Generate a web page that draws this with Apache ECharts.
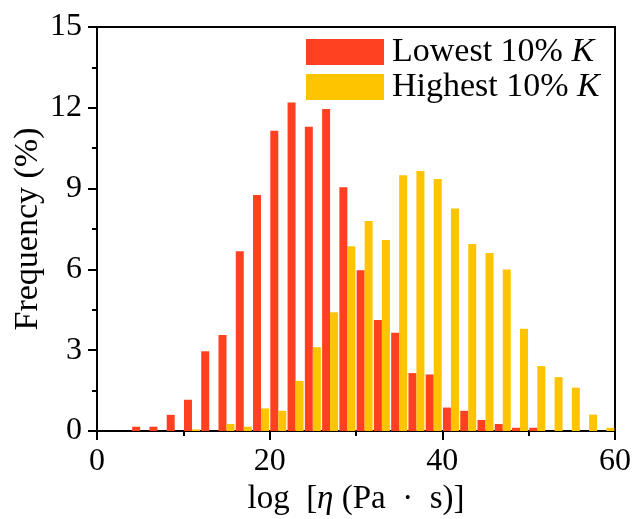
<!DOCTYPE html>
<html>
<head>
<meta charset="utf-8">
<script src="https://cdn.jsdelivr.net/npm/echarts@6/dist/echarts.min.js"></script>
<style>
  html, body { margin: 0; padding: 0; background: #fff; }
  #main { width: 634px; height: 519px; }
</style>
</head>
<body>
<div id="main"></div>
<script>
// bin centres (bins of width 2 on log eta)
var binCenters = [1, 3, 5, 7, 9, 11, 13, 15, 17, 19, 21, 23, 25, 27, 29,
                  31, 33, 35, 37, 39, 41, 43, 45, 47, 49, 51, 53, 55, 57, 59];
// frequency (%) of each bin
var lowest = [0, 0, 0.16, 0.16, 0.6, 1.16, 2.96, 3.56, 6.67, 8.76, 11.15, 12.2, 11.3, 11.96, 9.05,
              5.97, 4.12, 3.65, 2.15, 2.1, 0.87, 0.75, 0.41, 0.26, 0.12, 0.12, 0, 0, 0, 0];
var highest = [0, 0, 0, 0, 0, 0.06, 0, 0.26, 0.16, 0.84, 0.75, 1.86, 3.11, 4.41, 6.86,
               7.8, 7.09, 9.5, 9.65, 9.36, 8.26, 6.94, 6.61, 6.0, 3.8, 2.41, 2.0, 1.61, 0.61, 0.12];
var xTicks = [0, 20, 40, 60];
var yTicks = [0, 3, 6, 9, 12, 15];

var FONT = '"Liberation Serif", "DejaVu Serif", serif';

function pairs(vals) {
    return binCenters.map(function (x, i) { return [x, vals[i]]; });
}

var chart = echarts.init(document.getElementById('main'), null, { renderer: 'canvas' });

var option = {
    backgroundColor: '#fff',
    animation: false,
    grid: {
        left: 97, right: 19, top: 27, bottom: 88,
        outerBoundsMode: 'none',
        containLabel: false,
        show: true, borderColor: '#000', borderWidth: 2, backgroundColor: 'transparent'
    },
    legend: {
        orient: 'vertical',
        left: 301, top: 30,
        itemWidth: 78, itemHeight: 26, itemGap: 1,
        icon: 'rect',
        textStyle: {
            fontFamily: FONT, fontSize: 34, color: '#000', lineHeight: 26, padding: [0, 0, 0, 3],
            rich: { i: { fontFamily: FONT, fontSize: 34, fontStyle: 'italic', color: '#000', lineHeight: 26 } }
        },
        formatter: function (name) {
            return name.replace(/K$/, '{i|K}');
        },
        data: ['Lowest 10% K', 'Highest 10% K']
    },
    xAxis: {
        type: 'value',
        min: xTicks[0], max: xTicks[xTicks.length - 1], interval: 20,
        name: 'log  [{i|η} (Pa  ·  s)]',
        nameLocation: 'middle', nameGap: 47,
        nameTextStyle: {
            fontFamily: FONT, fontSize: 33, color: '#000',
            rich: { i: { fontFamily: FONT, fontSize: 33, fontStyle: 'italic', color: '#000' } }
        },
        axisLine: { lineStyle: { color: '#000', width: 2 } },
        axisTick: { inside: false, length: 9, lineStyle: { color: '#000', width: 2 } },
        minorTick: { show: true, splitNumber: 2, length: 5, lineStyle: { color: '#000', width: 2 } },
        axisLabel: { fontFamily: FONT, fontSize: 32, color: '#000', margin: 15 },
        splitLine: { show: false }
    },
    yAxis: {
        type: 'value',
        min: yTicks[0], max: yTicks[yTicks.length - 1], interval: 3,
        name: 'Frequency (%)',
        nameLocation: 'middle', nameGap: 52,
        nameMoveOverlap: false,
        nameTextStyle: { fontFamily: FONT, fontSize: 34, color: '#000' },
        axisLine: { show: true, lineStyle: { color: '#000', width: 2 } },
        axisTick: { show: true, inside: false, length: 9, lineStyle: { color: '#000', width: 2 } },
        minorTick: { show: true, splitNumber: 2, length: 5, lineStyle: { color: '#000', width: 2 } },
        axisLabel: { fontFamily: FONT, fontSize: 32, color: '#000', margin: 15 },
        splitLine: { show: false }
    },
    series: [
        {
            name: 'Lowest 10% K',
            type: 'bar',
            barWidth: 8,
            barGap: '0%',
            itemStyle: { color: '#FF4121' },
            data: pairs(lowest)
        },
        {
            name: 'Highest 10% K',
            type: 'bar',
            barWidth: 8,
            barGap: '0%',
            itemStyle: { color: '#FFC400' },
            data: pairs(highest)
        }
    ]
};

chart.setOption(option);
</script>
</body>
</html>
